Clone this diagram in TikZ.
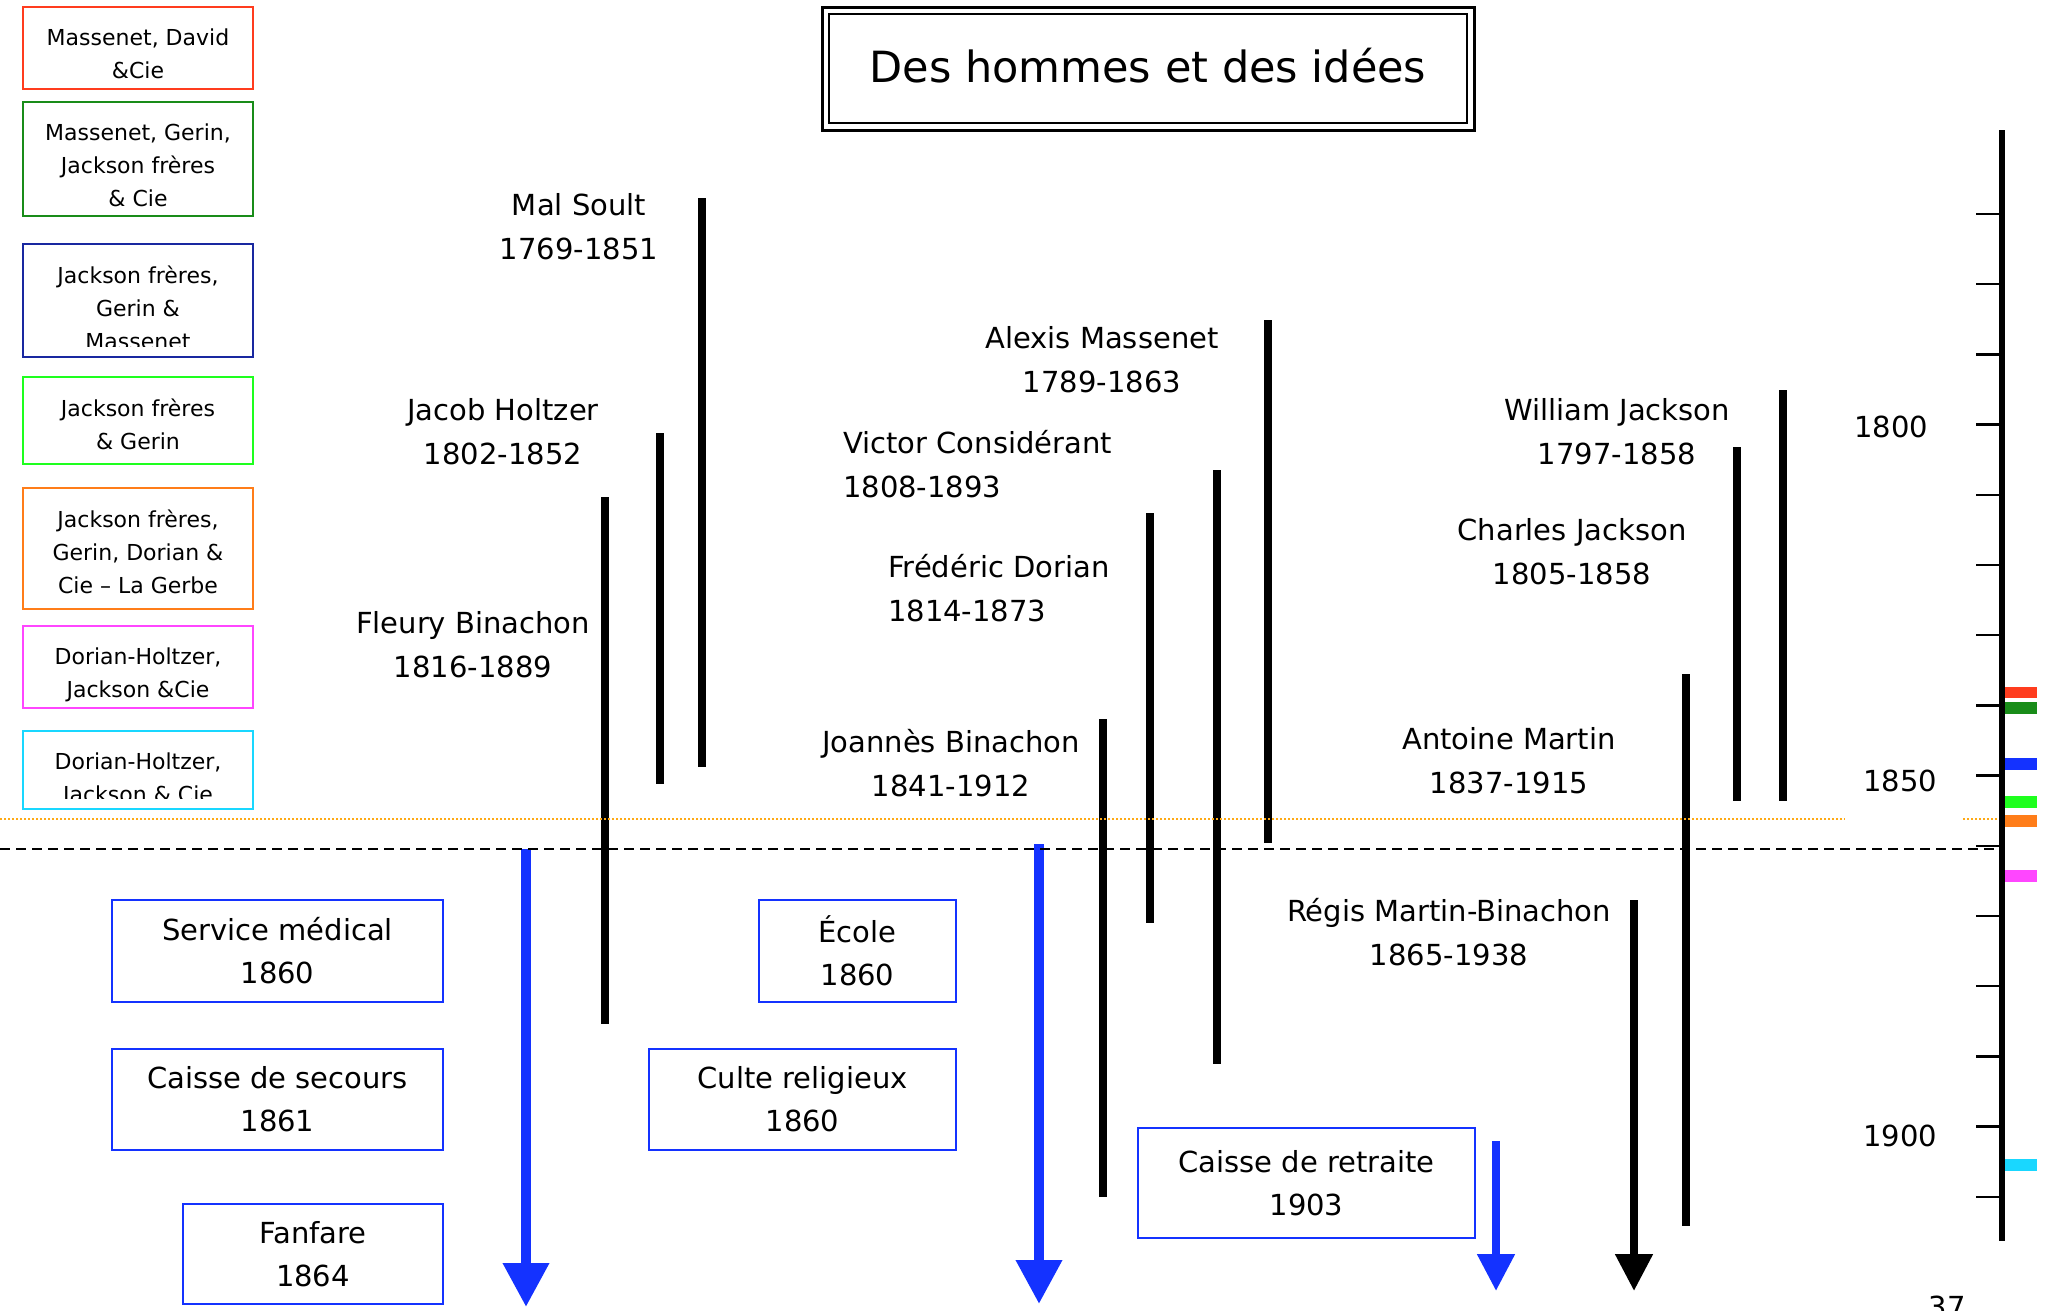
\documentclass[tikz,border=0pt]{standalone}
\usepackage{fontspec}
\setmainfont{DejaVu Sans}
\usetikzlibrary{arrows.meta}
\definecolor{evblue}{RGB}{20,50,255}
\definecolor{lgred}{RGB}{255,60,30}
\definecolor{lgdkgreen}{RGB}{25,140,25}
\definecolor{lgnavy}{RGB}{25,40,160}
\definecolor{lglime}{RGB}{30,255,30}
\definecolor{lgorange}{RGB}{255,125,25}
\definecolor{lgmagenta}{RGB}{255,70,255}
\definecolor{lgcyan}{RGB}{25,215,255}
\definecolor{dotorange}{RGB}{255,170,20}
\tikzset{
    lifebar/.style={line width=8pt},
    who/.style={font=\fontsize{29}{44}\selectfont, align=center, inner sep=0pt},
    eventbox/.style={draw=evblue, line width=2pt, font=\fontsize{29}{43}\selectfont, align=center, inner sep=0pt},
    legendtext/.style={font=\fontsize{22}{33}\selectfont, align=center, inner sep=0pt, anchor=north},
    yearlbl/.style={font=\fontsize{29}{34}\selectfont, inner sep=0pt},
    idea/.style={evblue, line width=10pt, -{Triangle[width=44pt,length=44pt]}},
}
% legend box: name, colour, top, bottom, cut, text
\newcommand\legendbox[6]{%
    \begin{scope}
        \clip (23,#3) rectangle (253,#5);
        \node[legendtext] (#1) at (138,#3+22) {#6};
    \end{scope}
    \draw[#2, line width=2.5pt] (23,#3) rectangle (253,#4);
}

\begin{document}
\begin{tikzpicture}[x=1pt,y=-1pt]
\useasboundingbox (0,0) rectangle (2045,1310);

% firms
\legendbox{davidcie}{lgred}{7}{89}{89}{Massenet, David\\\&Cie}
\legendbox{gerincie}{lgdkgreen}{102}{216}{206}{Massenet, Gerin,\\Jackson frères\\\& Cie}
\legendbox{jfgm}{lgnavy}{244}{357}{346}{Jackson frères,\\Gerin \&\\Massenet}
\legendbox{jfg}{lglime}{377}{464}{464}{Jackson frères\\\& Gerin}
\legendbox{gerbe}{lgorange}{488}{609}{609}{Jackson frères,\\Gerin, Dorian \&\\Cie – La Gerbe}
\legendbox{dhj}{lgmagenta}{626}{708}{708}{Dorian-Holtzer,\\Jackson \&Cie}
\legendbox{dhjc}{lgcyan}{731}{809}{798}{Dorian-Holtzer,\\Jackson \& Cie}

% title
\draw[line width=3pt] (822,7) rectangle (1474,130);
\draw[line width=1.5pt] (829,14) rectangle (1467,123);
\node[font=\fontsize{43}{50}\selectfont] (title) at (1148,66) {Des hommes et des idées};

% lives
\draw[lifebar] (702,198) -- (702,767); % Soult
\draw[lifebar] (660,433) -- (660,784); % Holtzer
\draw[lifebar] (605,497) -- (605,1024); % Fleury
\draw[lifebar] (1268,320) -- (1268,843); % Alexis
\draw[lifebar] (1217,470) -- (1217,1064); % Considerant
\draw[lifebar] (1150,513) -- (1150,923); % Dorian
\draw[lifebar] (1103,719) -- (1103,1197); % Joannes
\draw[lifebar] (1783,390) -- (1783,801); % William
\draw[lifebar] (1737,447) -- (1737,801); % Charles
\draw[lifebar] (1686,674) -- (1686,1226); % Antoine

\node[who] (soult) at (579,227) {Mal Soult\\1769-1851};
\node[who] (holtzer) at (503,432) {Jacob Holtzer\\1802-1852};
\node[who] (fleury) at (473,645) {Fleury Binachon\\1816-1889};
\node[who] (alexis) at (1102,360) {Alexis Massenet\\1789-1863};
\node[who, align=left, anchor=west] (considerant) at (843,464) {Victor Considérant\\1808-1893};
\node[who, align=left, anchor=west] (dorian) at (888,588) {Frédéric Dorian\\1814-1873};
\node[who] (joannes) at (951,763) {Joannès Binachon\\1841-1912};
\node[who] (william) at (1617,432) {William Jackson\\1797-1858};
\node[who] (charles) at (1572,552) {Charles Jackson\\1805-1858};
\node[who] (antoine) at (1509,761) {Antoine Martin\\1837-1915};
\node[who] (regis) at (1449,932) {Régis Martin-Binachon\\1865-1938};
\draw[line width=8pt, -{Triangle[width=36pt,length=37pt]}] (1634,900) -- (1634,1291); % Regis

% works
\node[eventbox, minimum width=331pt, minimum height=102pt] (medical) at (277.5,951) {Service médical\\1860};
\node[eventbox, minimum width=331pt, minimum height=101pt] (secours) at (277.5,1099.5) {Caisse de secours\\1861};
\node[eventbox, minimum width=260pt, minimum height=100pt] (fanfare) at (313,1254) {Fanfare\\1864};
\node[eventbox, minimum width=197pt, minimum height=102pt] (ecole) at (857.5,951) {École\\1860};
\node[eventbox, minimum width=307pt, minimum height=101pt] (culte) at (802.5,1099.5) {Culte religieux\\1860};
\node[eventbox, minimum width=337pt, minimum height=110pt] (retraite) at (1306.5,1183) {Caisse de retraite\\1903};
\draw[idea] (526,849) -- (526,1307);
\draw[idea] (1039,844) -- (1039,1304);
\draw[idea, line width=8pt, -{Triangle[width=36pt,length=37pt]}] (1496,1141) -- (1496,1291);

% marks across the page
\draw[dotorange, line width=1.5pt, dash pattern=on 2pt off 2pt] (0,819) -- (1845,819);
\draw[dotorange, line width=1.5pt, dash pattern=on 2pt off 2pt] (1963,819) -- (2002,819);
\draw[line width=2pt, dash pattern=on 10pt off 6pt] (0,849) -- (2002,849);

% time axis
\draw[line width=6pt] (2002,130) -- (2002,1241);
\foreach \i in {0,...,14}
    \draw[line width=2.5pt] (1976,214+70.2*\i) -- (2002,214+70.2*\i);
\node[yearlbl] (y1800) at (1891,427) {1800};
\node[yearlbl] (y1850) at (1900,781) {1850};
\node[yearlbl] (y1900) at (1900,1136) {1900};
\fill[lgred] (2005,687) rectangle (2037,698);
\fill[lgdkgreen] (2005,702) rectangle (2037,714);
\fill[evblue] (2005,758) rectangle (2037,770);
\fill[lglime] (2005,796) rectangle (2037,808);
\fill[lgorange] (2005,815) rectangle (2037,827);
\fill[lgmagenta] (2005,870) rectangle (2037,882);
\fill[lgcyan] (2005,1159) rectangle (2037,1171);
\node[yearlbl, anchor=north] (page) at (1947,1296) {37};

\end{tikzpicture}
\end{document}
